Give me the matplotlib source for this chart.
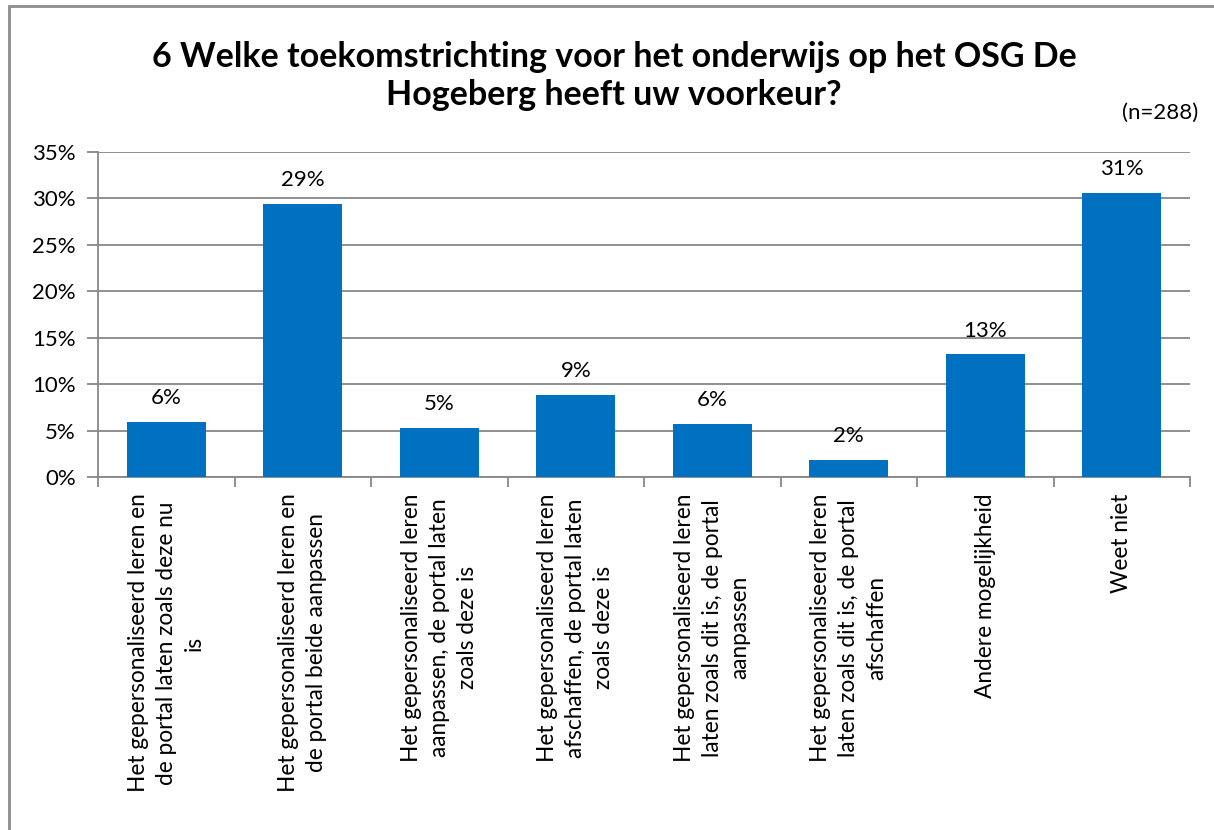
import matplotlib
matplotlib.use("Agg")
import matplotlib.pyplot as plt
from matplotlib.patches import Rectangle
from matplotlib.ticker import FixedLocator, NullFormatter

plt.rcParams['font.family'] = ['Lato', 'DejaVu Sans']

# survey answers (share of respondents, %)
categories = [
    "Het gepersonaliseerd leren en\nde portal laten zoals deze nu\nis",
    "Het gepersonaliseerd leren en\nde portal beide aanpassen",
    "Het gepersonaliseerd leren\naanpassen, de portal laten\nzoals deze is",
    "Het gepersonaliseerd leren\nafschaffen, de portal laten\nzoals deze is",
    "Het gepersonaliseerd leren\nlaten zoals dit is, de portal\naanpassen",
    "Het gepersonaliseerd leren\nlaten zoals dit is, de portal\nafschaffen",
    "Andere mogelijkheid",
    "Weet niet",
]
values = [5.9, 29.4, 5.3, 8.8, 5.7, 1.8, 13.2, 30.6]
yticks = [0, 5, 10, 15, 20, 25, 30, 35]

title = "6 Welke toekomstrichting voor het onderwijs op het OSG De\nHogeberg heeft uw voorkeur?"
n_label = "(n=288)"

bar_color = "#0070C0"
grid_color = "#878787"

fig = plt.figure(figsize=(12.14, 8.30), dpi=100)
ax = fig.add_axes([98 / 1214, 1 - 477 / 830, (1190 - 98) / 1214, (477 - 152) / 830])

x = list(range(len(categories)))
ax.bar(x, values, width=0.58, color=bar_color, zorder=3)

# value labels above bars
for xi, v in zip(x, values):
    ax.annotate(f"{round(v)}%", (xi, v), xytext=(0, 10), textcoords="offset points",
                ha="center", va="bottom", fontsize=16)

ax.set_xlim(-0.5, len(categories) - 0.5)
ax.set_ylim(0, 35)
ax.set_yticks(yticks)
ax.set_yticklabels([f"{t}%" for t in yticks], fontsize=16)
ax.yaxis.grid(True, color=grid_color, linewidth=1.3, zorder=0)

# category labels, rotated, without tick marks at the centers
ax.set_xticks(x)
ax.set_xticklabels(categories, rotation=90, ha="center", va="top",
                   multialignment="center", fontsize=16.3, linespacing=1.4)
ax.tick_params(axis="x", length=0, pad=12)
ax.xaxis.set_minor_locator(FixedLocator([i - 0.5 for i in range(len(categories) + 1)]))
ax.xaxis.set_minor_formatter(NullFormatter())
ax.tick_params(axis="x", which="minor", length=7, color=grid_color, width=1.3)
ax.tick_params(axis="y", length=8, color=grid_color, width=1.3, pad=8)

for s in ["top", "right"]:
    ax.spines[s].set_visible(False)
for s in ["left", "bottom"]:
    ax.spines[s].set_color(grid_color)
    ax.spines[s].set_linewidth(1.3)

fig.text(0.506, 1 - 76 / 830, title, ha="center", va="center",
         fontsize=24.5, fontweight="bold", linespacing=1.25)
fig.text(1198 / 1214, 1 - 113 / 830, n_label, ha="right", va="center", fontsize=16)

# outer chart border
fig.patches.append(Rectangle((9 / 1214, -0.05), 1.2, 1 - 6 / 830 + 0.05,
                             transform=fig.transFigure, fill=False,
                             edgecolor="#8c8c8c", linewidth=2))

fig.savefig("out.png", dpi=100)
